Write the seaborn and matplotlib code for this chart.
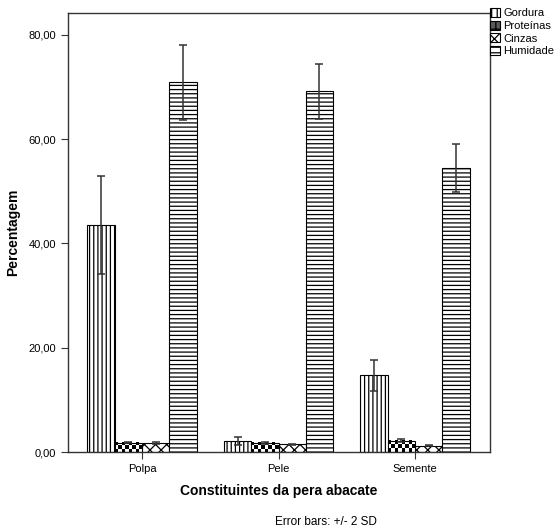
import numpy as np
import pandas as pd
import seaborn as sns
import matplotlib.pyplot as plt
from matplotlib.patches import Patch
from matplotlib.ticker import FuncFormatter

# -----------------------------
# Data
# -----------------------------
parts = ['Polpa', 'Pele', 'Semente']
components = ['Gordura', 'Proteínas', 'Cinzas', 'Humidade']

gordura = [43.5, 2.1, 14.7]
proteinas = [1.8, 1.8, 2.2]
cinzas = [1.7, 1.5, 1.2]
humidade = [70.9, 69.2, 54.4]

# half length of the error bar (2 SD)
gordura_err = [9.4, 0.8, 3.0]
proteinas_err = [0.15, 0.2, 0.3]
cinzas_err = [0.25, 0.1, 0.1]
humidade_err = [7.2, 5.3, 4.6]

values = [gordura, proteinas, cinzas, humidade]
errors = [gordura_err, proteinas_err, cinzas_err, humidade_err]

df = pd.DataFrame({
    'parte': np.tile(parts, len(components)),
    'componente': np.repeat(components, len(parts)),
    'valor': np.concatenate(values),
})

# -----------------------------
# Plot
# -----------------------------
sns.set_style('ticks')
plt.rcParams['font.family'] = ['Liberation Sans', 'DejaVu Sans']
plt.rcParams['hatch.linewidth'] = 0.9
plt.rcParams['text.color'] = 'black'
plt.rcParams['axes.labelcolor'] = 'black'
plt.rcParams['xtick.labelcolor'] = 'black'
plt.rcParams['ytick.labelcolor'] = 'black'

fig = plt.figure(figsize=(5.54, 5.28), dpi=100)
ax = fig.add_axes([0.1227, 0.1439, 0.7618, 0.8315])

sns.barplot(data=df, x='parte', y='valor', hue='componente', order=parts,
            hue_order=components, palette=['white'] * 4, saturation=1,
            errorbar=None, edgecolor='black', linewidth=0.8, legend=False, ax=ax)

ax.set_xlim(-0.542, 2.549)
ax.set_ylim(0, 84.2)

hatches = ['||||', None, 'xxx', '----']
for cont, h, err in zip(ax.containers, hatches, errors):
    xs = []
    for bar in cont:
        if h is not None:
            bar.set_hatch(h)
        xs.append(bar.get_x() + bar.get_width() / 2)
    hs = [bar.get_height() for bar in cont]
    ax.errorbar(xs, hs, yerr=err, fmt='none', ecolor='#333333',
                elinewidth=1.1, capsize=3, capthick=1.1, zorder=5)

# checkerboard fill for Proteinas
for bar in ax.containers[1]:
    x0, w, h = bar.get_x(), bar.get_width(), bar.get_height()
    p0 = ax.transData.transform((x0, 0))
    p1 = ax.transData.transform((x0 + w, h))
    ncol = max(1, int(round((p1[0] - p0[0]) / 3.6)))
    nrow = max(1, int(round((p1[1] - p0[1]) / 3.6)))
    board = np.indices((nrow, ncol)).sum(axis=0) % 2
    ax.imshow(board, cmap='gray', extent=[x0, x0 + w, 0, h], origin='lower',
              aspect='auto', interpolation='nearest', zorder=1.5)
    bar.set_facecolor('none')
    bar.set_zorder(3)

ax.set_xlim(-0.542, 2.549)
ax.set_ylim(0, 84.2)
ax.set_yticks([0, 20, 40, 60, 80])
ax.yaxis.set_major_formatter(FuncFormatter(lambda v, p: f'{v:.2f}'.replace('.', ',')))
ax.tick_params(labelsize=8, length=5, width=0.8, color='#333333')

for s in ax.spines.values():
    s.set_visible(True)
    s.set_linewidth(1.0)
    s.set_color('#333333')

ax.set_xlabel('Constituintes da pera abacate', fontsize=10, fontweight='bold', labelpad=7)
ax.set_ylabel('Percentagem', fontsize=10, fontweight='bold', labelpad=6)

handles = [
    Patch(facecolor='white', edgecolor='black', hatch='|||', linewidth=0.8),
    Patch(facecolor='0.35', edgecolor='black', hatch='++', linewidth=0.8),
    Patch(facecolor='white', edgecolor='black', hatch='xxx', linewidth=0.8),
    Patch(facecolor='white', edgecolor='black', hatch='---', linewidth=0.8),
]
fig.legend(handles, components, loc='upper left', bbox_to_anchor=(0.884, 0.985),
           frameon=False, fontsize=8, borderpad=0, borderaxespad=0,
           handlelength=0.9, handleheight=0.9, handletextpad=0.3,
           labelspacing=0.2)

fig.text(0.589, 0.011, 'Error bars: +/- 2 SD', fontsize=8.5, ha='center', va='center')

fig.savefig('out.png', dpi=100)
